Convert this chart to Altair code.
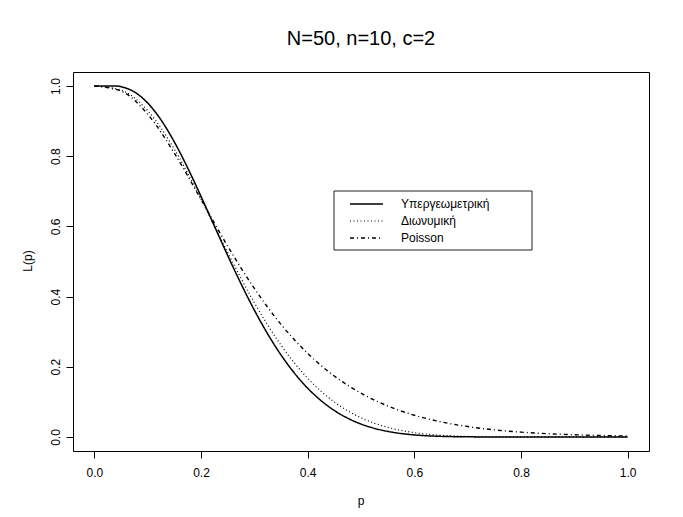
import altair as alt
import pandas as pd

title_text = "N=50, n=10, c=2"
x_title = "p"
y_title = "L(p)"
series_names = ["Υπεργεωμετρική", "Διωνυμική", "Poisson"]

# Hypergeometric curve (fine grid)
p_hyper = [0.00, 0.02, 0.04, 0.06, 0.08, 0.10, 0.12, 0.14, 0.16, 0.18,
           0.20, 0.22, 0.24, 0.26, 0.28, 0.30, 0.32, 0.34, 0.36, 0.38,
           0.40, 0.42, 0.44, 0.46, 0.48, 0.50, 0.52, 0.54, 0.56, 0.58,
           0.60, 0.62, 0.64, 0.66, 0.68, 0.70, 0.72, 0.80, 0.90, 1.00]
L_hyper = [1.0, 1.0, 1.0, 0.99388, 0.97825, 0.95174, 0.91444, 0.86738, 0.81223, 0.75094,
           0.68561, 0.61823, 0.55065, 0.48451, 0.42112, 0.36154, 0.30656, 0.25665, 0.21209, 0.17293,
           0.13904, 0.11017, 0.08596, 0.06599, 0.04979, 0.03688, 0.02677, 0.01901, 0.01319, 0.00891,
           0.00584, 0.00371, 0.00227, 0.00133, 0.00074, 0.00039, 0.00019, 0.0, 0.0, 0.0]

# Binomial and Poisson curves
p_bp = [0.00, 0.05, 0.10, 0.15, 0.20, 0.25, 0.30, 0.35, 0.40, 0.45, 0.50,
        0.55, 0.60, 0.65, 0.70, 0.75, 0.80, 0.85, 0.90, 0.95, 1.00]
L_binom = [1.0, 0.98850, 0.92981, 0.82020, 0.67780, 0.52559, 0.38278, 0.26160, 0.16729, 0.09956, 0.05469,
           0.02739, 0.01230, 0.00482, 0.00159, 0.00042, 0.00008, 0.0, 0.0, 0.0, 0.0]
L_poisson = [1.0, 0.98561, 0.91970, 0.80885, 0.67668, 0.54381, 0.42319, 0.32085, 0.23810, 0.17358, 0.12465,
             0.08838, 0.06197, 0.04304, 0.02964, 0.02026, 0.01375, 0.00928, 0.00623, 0.00416, 0.00277]

x_ticks = [0.0, 0.2, 0.4, 0.6, 0.8, 1.0]
y_ticks = [0.0, 0.2, 0.4, 0.6, 0.8, 1.0]

FONT = "Liberation Sans"
W, H = 576, 379

dashes = {
    series_names[0]: [1, 0],
    series_names[1]: [1, 2.5],
    series_names[2]: [4, 3, 1, 3],
}
widths = {series_names[0]: 1.5, series_names[1]: 1.2, series_names[2]: 1.4}

df_h = pd.DataFrame({"p": p_hyper, "L": L_hyper, "s": series_names[0]})
df_b = pd.DataFrame({"p": p_bp, "L": L_binom, "s": series_names[1]})
df_p = pd.DataFrame({"p": p_bp, "L": L_poisson, "s": series_names[2]})

xscale = alt.Scale(domain=[-0.04, 1.04], nice=False, zero=False)
yscale = alt.Scale(domain=[-0.04, 1.04], nice=False, zero=False)

xaxis = alt.Axis(values=x_ticks, format=".1f", domain=False, grid=False,
                 tickColor="black", tickSize=7, tickWidth=1,
                 labelFont=FONT, labelFontSize=12, labelColor="black",
                 labelPadding=9, title=None)
yaxis = alt.Axis(values=y_ticks, format=".1f", domain=False, grid=False,
                 tickColor="black", tickSize=7, tickWidth=1,
                 labelFont=FONT, labelFontSize=12, labelColor="black",
                 labelAngle=270, labelAlign="center", labelBaseline="bottom",
                 labelPadding=4, title=None)

layers = []
for i, d in enumerate([df_h, df_b, df_p]):
    name = series_names[i]
    layers.append(
        alt.Chart(d).mark_line(color="black", strokeWidth=widths[name],
                               strokeDash=dashes[name], interpolate="monotone")
        .encode(x=alt.X("p:Q", scale=xscale, axis=xaxis),
                y=alt.Y("L:Q", scale=yscale, axis=yaxis))
    )

# Title and axis titles as text
lab_df = pd.DataFrame({"t": [title_text]})
layers.append(alt.Chart(lab_df).mark_text(font=FONT, fontSize=20, color="black",
                                          align="center", baseline="alphabetic")
              .encode(text="t:N", x=alt.value(288), y=alt.value(-27)))
xt_df = pd.DataFrame({"t": [x_title]})
layers.append(alt.Chart(xt_df).mark_text(font=FONT, fontSize=12, color="black",
                                         align="center", baseline="middle")
              .encode(text="t:N", x=alt.value(288), y=alt.value(429)))
yt_df = pd.DataFrame({"t": [y_title]})
layers.append(alt.Chart(yt_df).mark_text(font=FONT, fontSize=12, color="black",
                                         align="center", baseline="middle", angle=270)
              .encode(text="t:N", x=alt.value(-45), y=alt.value(189)))

# Legend box
box_df = pd.DataFrame({"s": ["box"]})
layers.append(alt.Chart(box_df).mark_rect(fill="white", stroke="#222", strokeWidth=1)
              .encode(x=alt.value(261), x2=alt.value(459), y=alt.value(119), y2=alt.value(178)))
row_y = [132, 149, 166]
for i, name in enumerate(series_names):
    rdf = pd.DataFrame({"s": [name]})
    layers.append(alt.Chart(rdf).mark_rule(color="black", strokeWidth=widths[name],
                                           strokeDash=dashes[name])
                  .encode(x=alt.value(277), x2=alt.value(310), y=alt.value(row_y[i])))
    layers.append(alt.Chart(rdf).mark_text(font=FONT, fontSize=12, color="black",
                                           align="left", baseline="middle")
                  .encode(text="s:N", x=alt.value(328), y=alt.value(row_y[i])))

chart = alt.layer(*layers).properties(
    width=W, height=H,
    autosize=alt.AutoSizeParams(type="none"),
    padding={"left": 65, "top": 64, "right": 26, "bottom": 58},
    background="white",
).configure_view(stroke="black", strokeWidth=1)

chart.save("out.html", embed_options={"renderer": "svg", "actions": False})
